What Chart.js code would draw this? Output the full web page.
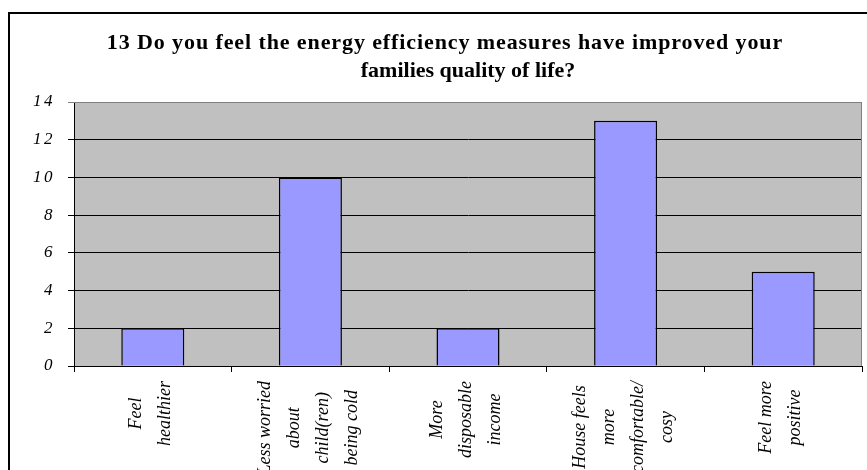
<!DOCTYPE html>
<html>
<head>
<meta charset="utf-8">
<script src="https://cdn.jsdelivr.net/npm/chart.js@4.4.0/dist/chart.umd.min.js"></script>
<style>
  body { margin: 0; background: #fff; }
  #frame { position: absolute; left: 8px; top: 12px; width: 900px; height: 500px; border: 2px solid #000; }
  #myChart { position: absolute; left: 0; top: 0; }
</style>
</head>
<body>
<div id="frame"></div>
<canvas id="myChart" width="867" height="470"></canvas>
<script>
const titleLines = [
  '13 Do you feel the energy efficiency measures have improved your',
  'families quality of life?'
]
const categories = [
  ['Feel', 'healthier'],
  ['Less worried', 'about', 'child(ren)', 'being cold'],
  ['More', 'disposable', 'income'],
  ['House feels', 'more', 'comfortable/', 'cosy'],
  ['Feel more', 'positive']
]
const counts = [2, 10, 2, 13, 5]
const yTicks = [0, 2, 4, 6, 8, 10, 12, 14]

const serif = '"Liberation Serif", "Times New Roman", serif'

// grey plot area + grey top/right border
const plotArea = {
  id: 'plotArea',
  beforeDraw: chart => {
    let {ctx, chartArea: a} = chart
    ctx.save()
    ctx.fillStyle = '#c0c0c0'
    ctx.fillRect(a.left, a.top, a.right - a.left, a.bottom - a.top)
    ctx.restore()
    // the source text is drawn wide, spread the axis digits a bit
    ctx.letterSpacing = '2.5px'
  },
  beforeDatasetsDraw: chart => {
    let {ctx, chartArea: a} = chart
    ctx.letterSpacing = '0px'
    ctx.save()
    ctx.strokeStyle = '#808080'
    ctx.lineWidth = 1
    ctx.beginPath()
    ctx.moveTo(a.left, a.top + 0.5)
    ctx.lineTo(a.right - 0.5, a.top + 0.5)
    ctx.lineTo(a.right - 0.5, a.bottom)
    ctx.stroke()
    ctx.restore()
  }
}

// two line title, each line centred on its own
const titleDraw = {
  id: 'titleDraw',
  afterDraw: chart => {
    let ctx = chart.ctx
    ctx.save()
    ctx.fillStyle = '#000'
    ctx.font = 'bold 22px ' + serif
    ctx.textAlign = 'center'
    ctx.textBaseline = 'alphabetic'
    ctx.letterSpacing = '0.9px'
    ctx.fillText(titleLines[0], 445, 49)
    ctx.letterSpacing = '0px'
    ctx.fillText(titleLines[1], 468, 77)
    ctx.restore()
  }
}

// rotated, wrapped category labels
const xLabels = {
  id: 'xLabels',
  afterDraw: chart => {
    let ctx = chart.ctx,
        scale = chart.scales.x
    ctx.save()
    ctx.fillStyle = '#000'
    ctx.font = 'italic 18px ' + serif
    ctx.textAlign = 'center'
    ctx.textBaseline = 'middle'
    categories.forEach((lines, i) => {
      let cx = scale.getPixelForValue(i),
          w = Math.max(...lines.map(l => ctx.measureText(l).width)),
          cy = scale.top + 15 + w / 2
      lines.forEach((line, j) => {
        ctx.save()
        ctx.translate(cx - 2 + (j - (lines.length - 1) / 2) * 29, cy)
        ctx.rotate(-Math.PI / 2)
        ctx.fillText(line, 0, 0)
        ctx.restore()
      })
    })
    ctx.restore()
  }
}

const ctx = document.getElementById('myChart').getContext('2d')
const chart = new Chart(ctx, {
  type: 'bar',
  data: {
    labels: categories.map(c => c.join(' ')),
    datasets: [{
      data: counts,
      backgroundColor: '#9999ff',
      borderColor: '#000',
      borderWidth: 1.5,
      barPercentage: 0.4,
      categoryPercentage: 1
    }]
  },
  options: {
    responsive: false,
    animation: false,
    devicePixelRatio: 1,
    layout: { padding: { top: 102, right: 5, left: 0, bottom: 0 } },
    plugins: {
      legend: { display: false },
      tooltip: { enabled: false },
      title: { display: false }
    },
    scales: {
      x: {
        afterFit: s => { s.height = 104 },
        border: { color: '#000', width: 1 },
        grid: { drawOnChartArea: false, drawTicks: true, tickLength: 6, color: '#000' },
        ticks: { display: false }
      },
      y: {
        min: yTicks[0],
        max: yTicks[yTicks.length - 1],
        afterFit: s => { s.width = 74 },
        border: { color: '#000', width: 1 },
        grid: {
          tickLength: 6,
          color: c => c.tick && c.tick.value === yTicks[yTicks.length - 1] ? '#808080' : '#000'
        },
        ticks: {
          stepSize: yTicks[1] - yTicks[0],
          padding: 13,
          color: '#000',
          font: { family: serif, size: 17, style: 'italic' }
        }
      }
    }
  },
  plugins: [plotArea, titleDraw, xLabels]
})
</script>
</body>
</html>
